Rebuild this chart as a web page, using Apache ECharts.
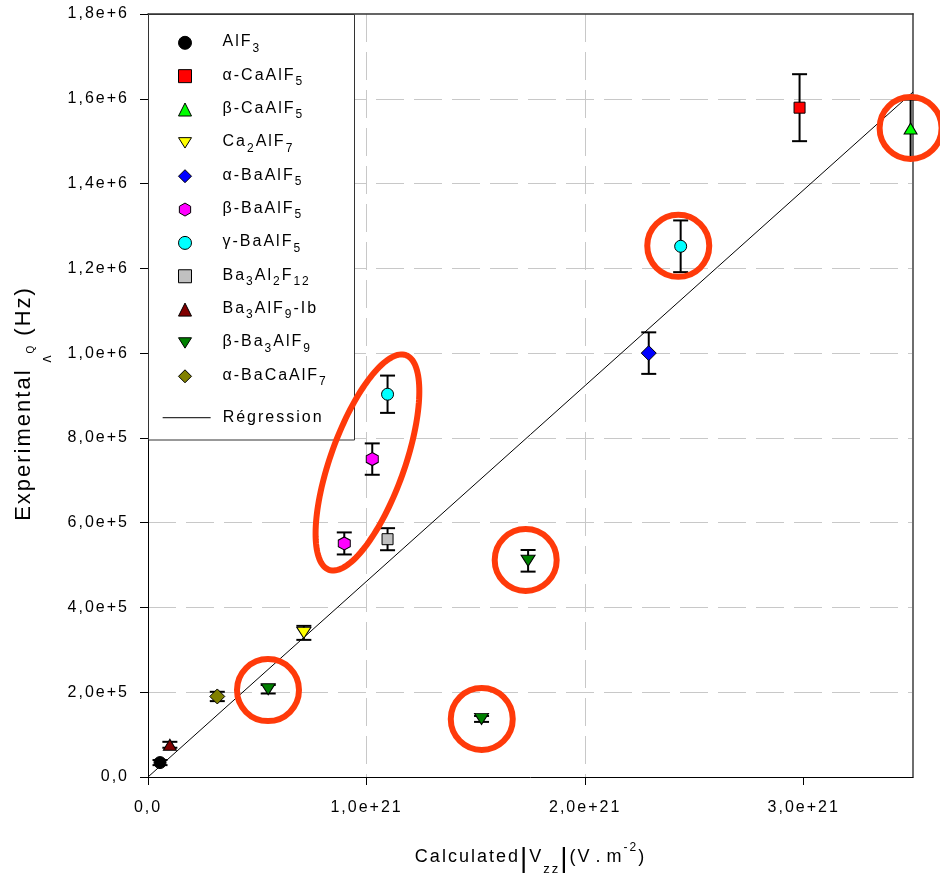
<!DOCTYPE html>
<html>
<head>
<meta charset="utf-8">
<script src="https://cdn.jsdelivr.net/npm/echarts@6/dist/echarts.min.js"></script>
<style>
html,body{margin:0;padding:0;background:#fff;}
#c{width:940px;height:875px;}
</style>
</head>
<body>
<div id="c"></div>
<script>
// ---------- data ----------
const xTickValues = [0, 1e21, 2e21, 3e21];
const xTickLabels = ['0,0', '1,0e+21', '2,0e+21', '3,0e+21'];
const yTickLabels = ['0,0', '2,0e+5', '4,0e+5', '6,0e+5', '8,0e+5', '1,0e+6', '1,2e+6', '1,4e+6', '1,6e+6', '1,8e+6'];

const seriesNames = ['AlF_{3}', 'α-CaAlF_{5}', 'β-CaAlF_{5}', 'Ca_{2}AlF_{7}', 'α-BaAlF_{5}', 'β-BaAlF_{5}',
  'γ-BaAlF_{5}', 'Ba_{3}Al_{2}F_{12}', 'Ba_{3}AlF_{9}-Ib', 'β-Ba_{3}AlF_{9}', 'α-BaCaAlF_{7}'];

// [calculated |Vzz| (V.m-2), experimental nuQ (Hz), error (Hz)]
const dAlF3        = [[0.055e21, 3.4e4, 6e3]];
const dAlphaCaAlF5 = [[2.981e21, 1.579e6, 7.9e4]];
const dBetaCaAlF5  = [[3.489e21, 1.530e6, 6.8e4]];
const dCa2AlF7     = [[0.713e21, 3.40e5, 1.65e4]];
const dAlphaBaAlF5 = [[2.291e21, 1.000e6, 4.9e4]];
const dBetaBaAlF5  = [[0.898e21, 5.51e5, 2.6e4], [1.026e21, 7.50e5, 3.7e4]];
const dGammaBaAlF5 = [[1.096e21, 9.03e5, 4.4e4], [2.437e21, 1.252e6, 6.1e4]];
const dBa3Al2F12   = [[1.096e21, 5.61e5, 2.6e4]];
const dBa3AlF9Ib   = [[0.100e21, 7.6e4, 7e3]];
const dBetaBa3AlF9 = [[0.550e21, 2.07e5, 1.0e4], [1.526e21, 1.37e5, 7e3], [1.739e21, 5.10e5, 2.55e4]];
const dAlphaBaCaAlF7 = [[0.317e21, 1.90e5, 1.1e4]];

const regressionName = 'Régression';
const regressionX = [0, 3.5e21];
const regressionY = [0, 1.616e6];

// annotations (centres in data units)
const circledPoints = [[0.549e21, 2.05e5], [1.527e21, 1.37e5], [1.728e21, 5.12e5], [2.426e21, 1.253e6], [3.489e21, 1.531e6]];
const ellipseCenter = [[1.004e21, 7.42e5]];

// ---------- text letter spacing (reference text is letter-spaced) ----------
(function () {
  const P = CanvasRenderingContext2D.prototype;
  ['fillText', 'strokeText', 'measureText'].forEach(function (fn) {
    const o = P[fn];
    P[fn] = function () { try { this.letterSpacing = '2px'; } catch (e) {} return o.apply(this, arguments); };
  });
})();

// ---------- styles ----------
const FONT = 'Liberation Sans, Arial, Helvetica, sans-serif';
const RED = '#ff3a0a';
const HEX = 'path://M0,-10L8.66,-5L8.66,5L0,10L-8.66,5L-8.66,-5Z';
const TDOWN = 'path://M-10,-8L10,-8L0,8Z';
const seriesData = [dAlF3, dAlphaCaAlF5, dBetaCaAlF5, dCa2AlF7, dAlphaBaAlF5, dBetaBaAlF5, dGammaBaAlF5, dBa3Al2F12, dBa3AlF9Ib, dBetaBa3AlF9, dAlphaBaCaAlF7];
const seriesStyle = [
  {color: '#000000', symbol: 'circle', size: 12},
  {color: '#ff0000', symbol: 'rect', size: 11},
  {color: '#00ff00', symbol: 'triangle', size: [13, 11]},
  {color: '#ffff00', symbol: TDOWN, size: [14, 11]},
  {color: '#0000ff', symbol: 'diamond', size: 15},
  {color: '#ff00ff', symbol: HEX, size: [12, 13]},
  {color: '#00ffff', symbol: 'circle', size: 12},
  {color: '#c0c0c0', symbol: 'rect', size: 11},
  {color: '#800000', symbol: 'triangle', size: [13, 11]},
  {color: '#008000', symbol: TDOWN, size: [14, 11]},
  {color: '#808000', symbol: 'diamond', size: 15}
];

function toRich(s) {
  return s.split(/(_\{[^}]*\})/).filter(Boolean).map(function (t) {
    return t.indexOf('_{') === 0 ? '{s|' + t.slice(2, -1) + '}' : '{m|' + t + '}';
  }).join('');
}

const legendRich = {
  m: {fontFamily: FONT, fontSize: 16, height: 16, lineHeight: 16, padding: [0, 0, 0, 0], verticalAlign: 'top', color: '#000'},
  s: {fontFamily: FONT, fontSize: 12, height: 12, lineHeight: 20.5, padding: [8.5, 0, 0, 0], verticalAlign: 'top', color: '#000'}
};

const xName = '{m|Calculated}{b||}{m|V}{s|zz}{b||}{m|(V}{d|.}{m|m}{p|-2}{m|)}';
const xNameRich = {
  m: {fontFamily: FONT, fontSize: 18, height: 18, lineHeight: 24, padding: [6, 0, 0, 0], verticalAlign: 'top', color: '#000'},
  d: {fontFamily: FONT, fontSize: 18, height: 18, lineHeight: 24, padding: [6, 4, 0, 4], verticalAlign: 'top', color: '#000'},
  b: {fontFamily: FONT, fontSize: 28, height: 28, lineHeight: 31, padding: [3, 0, 0, 0], verticalAlign: 'top', color: '#000'},
  s: {fontFamily: FONT, fontSize: 13, height: 13, lineHeight: 34.4, padding: [21.4, 0, 0, 0], verticalAlign: 'top', color: '#000'},
  p: {fontFamily: FONT, fontSize: 12, height: 12, lineHeight: 12, padding: [0, 0, 0, 0], verticalAlign: 'top', color: '#000'}
};
const yName = '{m|Experimental}{v| ʌ}{q|Q}{m| (Hz)}';
const yNameRich = {
  m: {fontFamily: FONT, fontSize: 22, height: 22, lineHeight: 22, padding: [0, 0, 0, 0], verticalAlign: 'top', color: '#000'},
  q: {fontFamily: FONT, fontSize: 10, height: 10, lineHeight: 24, padding: [14, 0, 0, 0], verticalAlign: 'top', color: '#000'},
  v: {fontFamily: FONT, fontSize: 14, height: 14, lineHeight: 42, padding: [28, 0, 0, 0], verticalAlign: 'top', color: '#000'}
};

function errRender(params, api) {
  const x = api.value(0), y = api.value(1), e = api.value(2);
  const top = api.coord([x, y + e]), bot = api.coord([x, y - e]);
  const w = 7.5;
  const st = {stroke: '#000', lineWidth: 2};
  return {type: 'group', children: [
    {type: 'line', shape: {x1: top[0], y1: top[1], x2: bot[0], y2: bot[1]}, style: st},
    {type: 'line', shape: {x1: top[0] - w, y1: top[1], x2: top[0] + w, y2: top[1]}, style: st},
    {type: 'line', shape: {x1: bot[0] - w, y1: bot[1], x2: bot[0] + w, y2: bot[1]}, style: st}
  ]};
}

function ellipseRender(params, api) {
  const c = api.coord([api.value(0), api.value(1)]);
  const a = 114, b = 37, phi = 19.7 * Math.PI / 180;
  const ux = Math.sin(phi), uy = -Math.cos(phi), nx = Math.cos(phi), ny = Math.sin(phi);
  const pts = [];
  for (let i = 0; i < 144; i++) {
    const t = i / 144 * 2 * Math.PI;
    const ca = Math.cos(t) * a, sb = Math.sin(t) * b;
    pts.push([c[0] + ca * ux + sb * nx, c[1] + ca * uy + sb * ny]);
  }
  return {type: 'polygon', shape: {points: pts}, style: {fill: 'none', stroke: RED, lineWidth: 6}};
}

const allErr = [].concat.apply([], seriesData);

const scatterSeries = seriesNames.map(function (n, i) {
  const st = seriesStyle[i];
  return {
    type: 'scatter', name: n,
    data: seriesData[i].map(function (p) { return [p[0], p[1]]; }),
    symbol: st.symbol, symbolSize: st.size,
    itemStyle: {color: st.color, borderColor: '#000', borderWidth: 1, opacity: 1},
    z: 3, silent: true, emphasis: {disabled: true}
  };
});

const splitStyle = {color: '#c8c8c8', type: [28, 10], width: 1};

const option = {
  animation: false,
  backgroundColor: '#ffffff',
  textStyle: {fontFamily: FONT},
  grid: {left: 148, top: 14, right: 27, bottom: 98, containLabel: false, outerBoundsMode: 'none'},
  xAxis: [
    {
      type: 'value', min: 0, max: 3.5e21, interval: 1e21, position: 'bottom',
      axisLine: {show: true, onZero: false, lineStyle: {color: '#000', width: 1}},
      axisTick: {show: true, length: 8, inside: false, lineStyle: {color: '#000', width: 1}, customValues: xTickValues},
      axisLabel: {show: true, margin: 22, color: '#000', fontSize: 16, fontFamily: FONT, customValues: xTickValues,
        formatter: function (v) { const k = Math.round(v / 1e21); return xTickLabels[k] !== undefined && Math.abs(v - k * 1e21) < 1e18 ? xTickLabels[k] : ''; }},
      splitLine: {show: true, showMinLine: false, showMaxLine: false, lineStyle: splitStyle},
      name: xName, nameLocation: 'middle', nameGap: 65,
      nameTextStyle: {fontFamily: FONT, fontSize: 18, color: '#000', rich: xNameRich}
    },
    {
      type: 'value', min: 0, max: 3.5e21, position: 'top',
      axisLine: {show: true, onZero: false, lineStyle: {color: '#333', width: 1.5}},
      axisTick: {show: false}, axisLabel: {show: false}, splitLine: {show: false}
    }
  ],
  yAxis: [
    {
      type: 'value', min: 0, max: 1.8e6, interval: 2e5, position: 'left',
      axisLine: {show: true, onZero: false, lineStyle: {color: '#000', width: 1}},
      axisTick: {show: true, length: 8, inside: false, lineStyle: {color: '#000', width: 1}},
      axisLabel: {show: true, margin: 19, color: '#000', fontSize: 16, fontFamily: FONT,
        formatter: function (v) { return yTickLabels[Math.round(v / 2e5)] || ''; }},
      splitLine: {show: true, showMinLine: false, showMaxLine: false, lineStyle: splitStyle},
      name: yName, nameLocation: 'middle', nameGap: 93.5,
      nameTextStyle: {fontFamily: FONT, fontSize: 22, color: '#000', padding: [0, 16, 0, 0], rich: yNameRich}
    },
    {
      type: 'value', min: 0, max: 1.8e6, position: 'right',
      axisLine: {show: true, onZero: false, lineStyle: {color: '#6e6e6e', width: 2}},
      axisTick: {show: false}, axisLabel: {show: false}, splitLine: {show: false}
    }
  ],
  legend: [
    {
      data: seriesNames, orient: 'vertical', left: 178, top: 32.8, padding: 0,
      itemGap: 10.85, itemWidth: 13, itemHeight: 13, selectedMode: false,
      formatter: toRich,
      itemStyle: {borderColor: '#000', borderWidth: 1},
      textStyle: {color: '#000', fontFamily: FONT, fontSize: 16, padding: [2.5, 0, 0, 26], rich: legendRich},
      z: 5
    },
    {
      data: [regressionName], orient: 'vertical', left: 162, top: 408.7, padding: 0,
      itemWidth: 48, itemHeight: 13, selectedMode: false,
      itemStyle: {color: 'rgba(0,0,0,0)', borderWidth: 0, opacity: 0},
      lineStyle: {color: '#333', width: 1.3},
      textStyle: {color: '#000', fontFamily: FONT, fontSize: 16, lineHeight: 16, padding: [0, 0, 0, 7]},
      z: 5
    }
  ],
  graphic: [
    {type: 'rect', silent: true, z: 1, shape: {x: 148.5, y: 14.5, width: 206, height: 425.5},
      style: {fill: '#ffffff', stroke: '#333333', lineWidth: 1}}
  ],
  series: [
    {type: 'custom', name: 'errorBars', data: allErr, renderItem: errRender, z: 2, silent: true},
    {type: 'line', name: regressionName, data: regressionX.map(function (x, i) { return [x, regressionY[i]]; }),
      symbol: 'none', itemStyle: {color: '#000'}, lineStyle: {color: '#000', width: 1}, z: 2, silent: true}
  ].concat(scatterSeries).concat([
    {type: 'scatter', name: 'circled', data: circledPoints, symbol: 'circle', symbolSize: 62,
      itemStyle: {color: 'rgba(0,0,0,0)', borderColor: RED, borderWidth: 6, opacity: 1}, z: 6, silent: true, clip: false, emphasis: {disabled: true}},
    {type: 'custom', name: 'ellipse', data: ellipseCenter, renderItem: ellipseRender, z: 6, silent: true, clip: false}
  ])
};

const chart = echarts.init(document.getElementById('c'), null, {renderer: 'canvas'});
chart.setOption(option);
</script>
</body>
</html>
